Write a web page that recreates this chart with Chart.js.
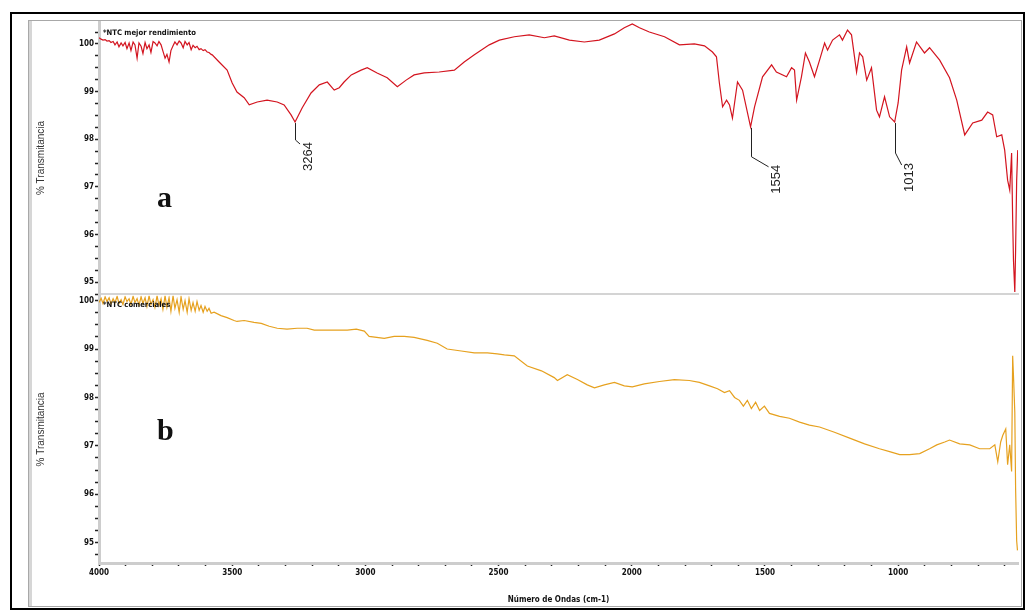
<!DOCTYPE html>
<html><head><meta charset="utf-8">
<script src="https://cdn.jsdelivr.net/npm/chart.js@4.4.1/dist/chart.umd.min.js"></script>
<style>
html,body{margin:0;padding:0;background:#fff;}
body{width:1027px;height:612px;position:relative;overflow:hidden;}
#outer{position:absolute;left:10px;top:12px;width:1011px;height:594px;border:2px solid #000;}
#inner{position:absolute;left:28px;top:20px;width:992px;height:585px;border:1px solid #a8a8a8;box-shadow:inset 3px 0 0 #d6d6d6;}
#c1{position:absolute;left:0;top:0;}
#c2{position:absolute;left:0;top:290px;}
</style></head><body>
<div id="outer"></div><div id="inner"></div>
<canvas id="c1" width="1027" height="300"></canvas>
<canvas id="c2" width="1027" height="322"></canvas>
<script>
// ---- data (wavenumber cm-1 / % transmittance) ----
const wnTop = [4000,3992,3985,3977,3970,3962,3955,3947,3940,3932,3925,3917,3910,3902,3895,3887,3880,3872,3865,3857,3850,3842,3835,3827,3820,3812,3805,3797,3790,3782,3775,3767,3760,3752,3745,3737,3730,3722,3715,3707,3699,3692,3684,3677,3669,3662,3654,3647,3639,3632,3624,3617,3609,3602,3594,3587,3579,3575,
  3549,3519,3500,3482,3455,3436,3406,3369,3331,3305,3279,3264,3237,3204,3173,3143,3117,3098,3080,3053,3016,2993,2956,2918,2880,2847,2817,2779,2723,2666,2629,2591,2535,2497,2441,2385,2328,2291,2234,2178,2122,2065,2028,1998,1971,1934,1877,1821,1765,1727,1697,1682,1671,1659,1644,1633,1622,1603,1584,1554,1539,1509,1475,1457,1419,1400,1389,1381,1363,1348,1333,1314,1295,1276,1265,1246,1220,1209,1190,1175,1156,1145,1133,1118,1100,1081,1070,1051,1032,1013,1000,987,968,957,931,901,882,844,807,780,750,720,686,664,645,630,611,600,589,581,574,570,567,562,559,555,551];
const tTop = [100.13,100.10,100.08,100.09,100.06,100.07,100.03,100.05,99.98,100.04,99.94,100.02,99.96,100.03,99.90,100.02,99.86,100.04,99.98,99.70,100.02,99.95,99.80,100.03,99.90,99.98,99.82,100.05,100.02,99.96,100.05,99.98,99.85,99.70,99.78,99.62,99.86,99.96,100.04,99.98,100.06,100.02,99.92,100.05,99.98,100.03,99.88,99.97,99.92,99.95,99.88,99.90,99.86,99.88,99.83,99.82,99.78,99.77,
  99.62,99.45,99.18,98.99,98.87,98.72,98.78,98.82,98.78,98.72,98.51,98.36,98.66,98.97,99.14,99.20,99.03,99.08,99.20,99.35,99.45,99.50,99.39,99.29,99.10,99.24,99.35,99.39,99.41,99.45,99.62,99.77,99.98,100.08,100.15,100.19,100.13,100.17,100.08,100.04,100.08,100.21,100.34,100.42,100.34,100.25,100.15,99.98,100.00,99.96,99.83,99.73,99.18,98.68,98.82,98.72,98.44,99.20,99.03,98.26,98.68,99.31,99.56,99.41,99.31,99.50,99.45,98.82,99.31,99.81,99.62,99.31,99.66,100.02,99.87,100.08,100.19,100.08,100.29,100.19,99.41,99.81,99.73,99.24,99.50,98.61,98.47,98.89,98.47,98.36,98.76,99.45,99.94,99.60,100.04,99.81,99.92,99.66,99.29,98.82,98.09,98.34,98.40,98.57,98.51,98.05,98.09,97.77,97.14,96.93,97.71,96.30,95.46,94.79,95.67,97.14,97.77];
const wnBot = [4000,3992,3985,3977,3970,3962,3955,3947,3940,3932,3925,3917,3910,3902,3895,3887,3880,3872,3865,3857,3850,3842,3835,3827,3820,3812,3805,3797,3790,3782,3775,3767,3760,3752,3745,3737,3730,3722,3715,3707,3699,3692,3684,3677,3669,3662,3654,3647,3639,3632,3624,3617,3609,3602,3594,3587,3579,3568,
  3542,3519,3493,3482,3455,3418,3391,3361,3331,3294,3256,3219,3192,3136,3068,3034,3004,2986,2929,2892,2854,2817,2768,2730,2693,2640,2591,2542,2505,2478,2441,2392,2339,2291,2279,2242,2204,2167,2140,2103,2065,2028,1998,1953,1896,1840,1784,1746,1708,1678,1652,1633,1614,1596,1581,1566,1551,1535,1520,1502,1483,1445,1408,1370,1333,1295,1239,1182,1126,1070,1032,994,957,919,882,855,825,807,769,731,694,656,637,626,615,607,596,589,581,574,570,566,562,559,555,552];
const tBot = [99.96,100.05,99.94,100.08,99.98,100.06,99.93,100.04,99.96,100.09,99.94,100.02,99.92,100.08,99.98,100.04,99.92,100.09,99.96,100.04,99.90,100.08,99.94,100.06,99.88,100.10,99.92,100.02,99.86,100.10,99.90,100.04,99.82,100.10,99.86,100.06,99.78,100.10,99.84,100.02,99.76,100.08,99.82,100.00,99.76,100.04,99.80,99.96,99.78,99.98,99.80,99.90,99.76,99.88,99.78,99.84,99.74,99.76,
  99.69,99.65,99.59,99.57,99.59,99.55,99.53,99.47,99.43,99.41,99.43,99.43,99.39,99.39,99.39,99.41,99.37,99.26,99.22,99.26,99.26,99.24,99.18,99.12,99.00,98.96,98.92,98.92,98.90,98.88,98.86,98.65,98.55,98.41,98.35,98.47,98.37,98.26,98.20,98.26,98.31,98.24,98.22,98.28,98.33,98.37,98.35,98.31,98.24,98.18,98.10,98.14,98.00,97.94,97.82,97.94,97.77,97.90,97.73,97.82,97.67,97.61,97.57,97.49,97.43,97.39,97.28,97.16,97.04,96.94,96.88,96.82,96.82,96.84,96.94,97.02,97.08,97.12,97.04,97.02,96.94,96.94,97.02,96.67,97.08,97.22,97.35,96.61,97.02,96.47,98.86,98.31,97.69,96.12,95.04,94.84];
const peakLabels = [3264, 1554, 1013];
const seriesNames = ['*NTC mejor rendimiento', '*NTC comerciales'];
const panelLetters = ['a', 'b'];
const yTitle = '% Transmitancia';
const xTitle = 'Número de Ondas (cm-1)';

// ---- styles ----
const NARROW = "'Liberation Sans Narrow','DejaVu Sans Condensed','Liberation Sans',Arial,sans-serif";
const SANS = "'Liberation Sans',Arial,sans-serif";
const RED = '#d3141f', ORANGE = '#e6a11f';
const leaderDrop = [18, 30, 31], leaderDx = [5, 18, 7], leaderDy = [4, 10, 12];

function pts(w, t) { const n = Math.min(w.length, t.length); const a = []; for (let i = 0; i < n; i++) a.push({x: w[i], y: t[i]}); return a; }

function yAxis(min, max) {
  return {
    min, max,
    afterFit(s) { s.width = 71; },
    afterBuildTicks(s) { s.ticks = s.ticks.filter(t => Math.abs(t.value * 4 - Math.round(t.value * 4)) < 1e-6); },
    ticks: {
      stepSize: 0.25, includeBounds: false, autoSkip: false, padding: 1, color: '#111',
      font: {family: NARROW, size: 8, weight: 'bold'},
      callback: v => Math.abs(v - Math.round(v)) < 1e-6 ? String(Math.round(v)) : ''
    },
    grid: {drawOnChartArea: false, tickLength: 4, tickColor: '#222', tickWidth: 1.5},
    border: {color: '#cdcdcd', width: 3},
    title: {display: true, text: yTitle, color: '#333', font: {family: SANS, size: 10}, padding: {top: 7, bottom: 0}}
  };
}

const commonOpts = {
  responsive: false, animation: false, events: [],
  plugins: {legend: {display: false}, tooltip: {enabled: false}},
  elements: {point: {radius: 0}, line: {tension: 0}}
};

// top chart
new Chart(document.getElementById('c1'), {
  type: 'line',
  data: {datasets: [{data: pts(wnTop, tTop), borderColor: RED, borderWidth: 1.2}]},
  options: Object.assign({}, commonOpts, {
    layout: {padding: {left: 28, right: 9, top: 22, bottom: 0}},
    scales: {
      x: {type: 'linear', reverse: true, min: 550, max: 4000,
          afterFit(s) { s.height = 6; },
          ticks: {display: false},
          grid: {display: true, drawOnChartArea: false, drawTicks: false},
          border: {color: '#d4d4d4', width: 2}},
      y: yAxis(94.75, 100.46)
    }
  }),
  plugins: [{
    id: 'decorTop',
    afterDatasetsDraw(chart) {
      const ctx = chart.ctx, xs = chart.scales.x, ys = chart.scales.y;
      ctx.save();
      ctx.fillStyle = '#111';
      ctx.font = 'bold 7.6px ' + NARROW;
      ctx.textBaseline = 'middle'; ctx.textAlign = 'left';
      ctx.fillText(seriesNames[0], 103, 33);
      ctx.font = 'bold 30px "Liberation Serif","Times New Roman",serif';
      ctx.fillText(panelLetters[0], 157, 199);
      peakLabels.forEach((wn, i) => {
        const idx = wnTop.indexOf(wn);
        const px = xs.getPixelForValue(wn), py = ys.getPixelForValue(tTop[idx]);
        const y1 = py + leaderDrop[i], x2 = px + leaderDx[i], y2 = y1 + leaderDy[i];
        ctx.strokeStyle = '#222'; ctx.lineWidth = 1;
        ctx.beginPath(); ctx.moveTo(Math.round(px) + 0.5, py + 1); ctx.lineTo(Math.round(px) + 0.5, y1); ctx.lineTo(x2, y2); ctx.stroke();
        ctx.save();
        ctx.translate(x2 + 8, y2 - 2);
        ctx.rotate(-Math.PI / 2);
        ctx.font = '13px ' + SANS; ctx.fillStyle = '#222';
        ctx.textAlign = 'right'; ctx.textBaseline = 'middle';
        ctx.fillText(String(wn), 0, 0);
        ctx.restore();
      });
      ctx.restore();
    }
  }]
});

// bottom chart
new Chart(document.getElementById('c2'), {
  type: 'line',
  data: {datasets: [{data: pts(wnBot, tBot), borderColor: ORANGE, borderWidth: 1.2}]},
  options: Object.assign({}, commonOpts, {
    layout: {padding: {left: 28, right: 9, top: 5, bottom: 5}},
    scales: {
      x: {type: 'linear', reverse: true, min: 550, max: 4000,
          afterFit(s) { s.height = 44; },
          afterBuildTicks(s) { s.ticks = s.ticks.filter(t => t.value % 100 === 0); },
          ticks: {stepSize: 100, includeBounds: false, autoSkip: false, maxRotation: 0, padding: 2, color: '#111',
                  font: {family: NARROW, size: 8, weight: 'bold'},
                  callback: v => v % 500 === 0 ? String(v) : ''},
          grid: {drawOnChartArea: false, tickLength: 3, tickColor: '#222', tickWidth: 1.5},
          border: {color: '#cdcdcd', width: 3},
          title: {display: true, text: xTitle, color: '#111', font: {family: NARROW, size: 8, weight: 'bold'}, padding: {top: 0, bottom: 2}}},
      y: yAxis(94.58, 100.10)
    }
  }),
  plugins: [{
    id: 'decorBot',
    afterDatasetsDraw(chart) {
      const ctx = chart.ctx;
      ctx.save();
      ctx.fillStyle = '#111';
      ctx.font = 'bold 7.6px ' + NARROW;
      ctx.textBaseline = 'middle'; ctx.textAlign = 'left';
      ctx.fillText(seriesNames[1], 103, 15);
      ctx.font = 'bold 30px "Liberation Serif","Times New Roman",serif';
      ctx.fillText(panelLetters[1], 157, 142);
      ctx.restore();
    }
  }]
});
</script>
</body></html>
